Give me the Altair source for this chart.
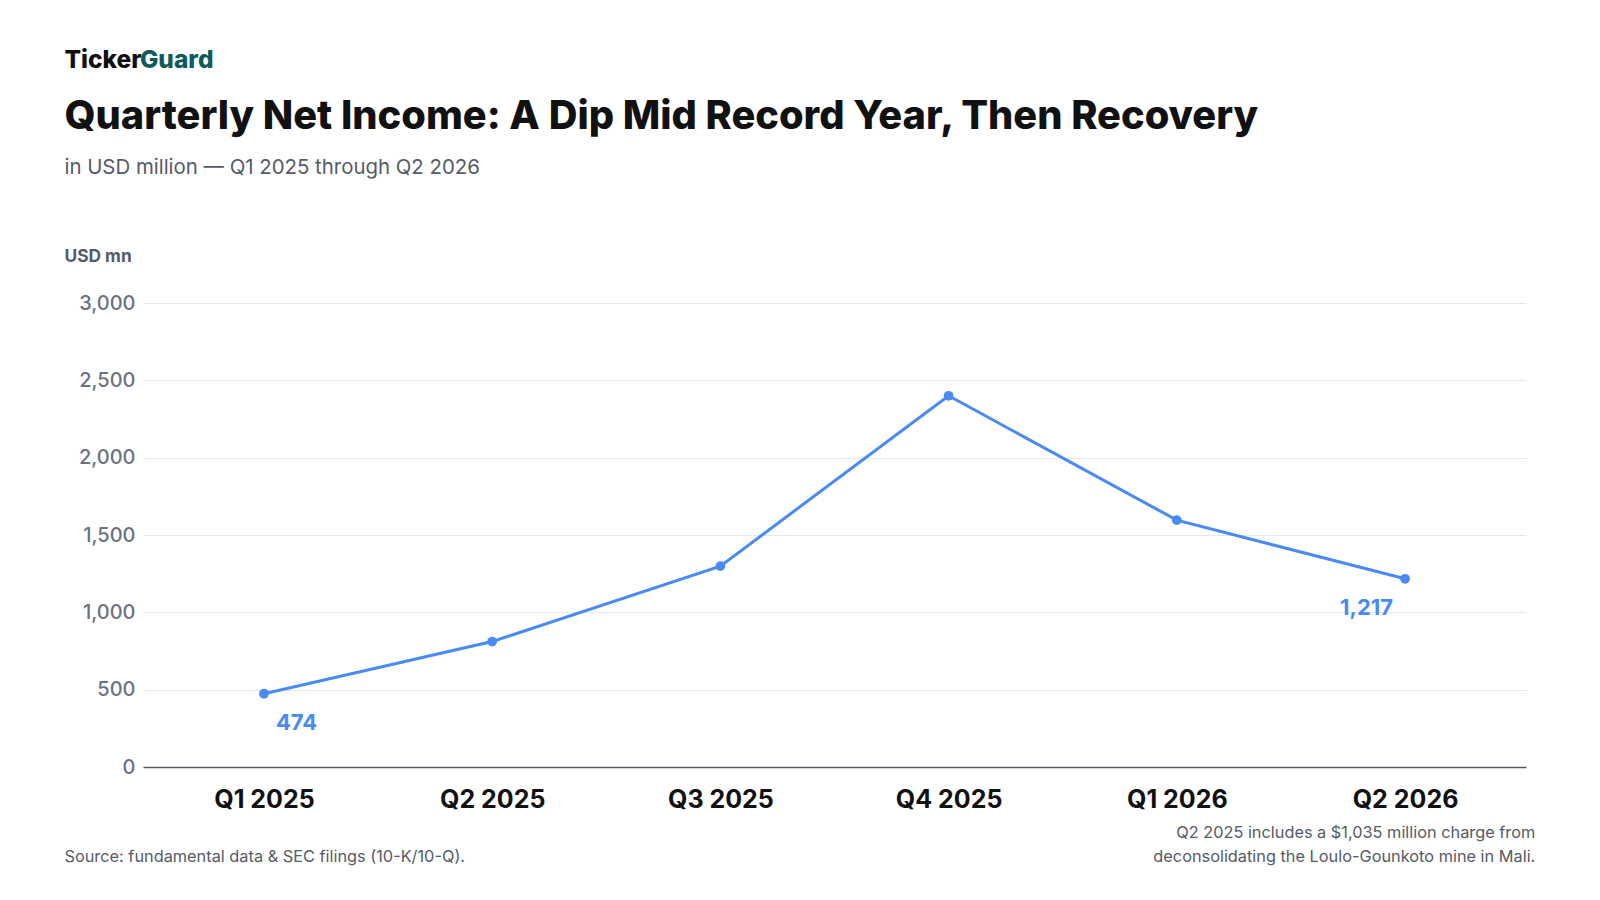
import altair as alt
import pandas as pd

quarters = ["Q1 2025", "Q2 2025", "Q3 2025", "Q4 2025", "Q1 2026", "Q2 2026"]
net_income = [474, 811, 1299, 2400, 1596, 1217]
labelled = ["Q1 2025", "Q2 2026"]

BLUE = "#4a8af4"
FONT = "Inter"
K = 1.02  # screenshot renders slightly smaller

df = pd.DataFrame({"quarter": quarters, "value": net_income})
df["label"] = df["value"].map(lambda v: f"{v:,}")

x = alt.X("quarter:N", sort=quarters, title=None,
          scale=alt.Scale(type="point", padding=0.53),
          axis=alt.Axis(labelFontSize=25, labelFontWeight="bold", labelColor="#111111",
                        labelAngle=0, labelPadding=20, ticks=False, domainColor="#555b66",
                        domainWidth=1.5, grid=False))
y = alt.Y("value:Q", title=None,
          scale=alt.Scale(domain=[0, 3000]),
          axis=alt.Axis(values=[0, 500, 1000, 1500, 2000, 2500, 3000], format=",.0f",
                        labelFontSize=20, labelFontWeight=500, labelColor="#6b7280",
                        labelPadding=8, ticks=False, domain=False, gridColor="#e5e7eb"))

base = alt.Chart(df)
line = base.mark_line(color=BLUE, strokeWidth=3).encode(x=x, y=y)
points = base.mark_point(color=BLUE, filled=True, opacity=1, size=95).encode(x=x, y=y)
first = base.transform_filter(alt.datum.quarter == labelled[0]).mark_text(
    color=BLUE, fontSize=22, fontWeight="bold", font=FONT, align="left", dx=12, dy=29
).encode(x=x, y=y, text="label:N")
last = base.transform_filter(alt.datum.quarter == labelled[1]).mark_text(
    color=BLUE, fontSize=22, fontWeight="bold", font=FONT, align="right", dx=-12, dy=29
).encode(x=x, y=y, text="label:N")


def txt(s, px, py, size, color, weight="normal", align="left"):
    return alt.Chart(pd.DataFrame({"t": [s]})).mark_text(
        text=s, fontSize=size * K, color=color, fontWeight=weight, font=FONT,
        align=align, baseline="middle"
    ).encode(x=alt.value(px * K), y=alt.value(py * K))


header = [
    txt("Ticker", -77, -237, 24, "#111111", 800),
    txt("Guard", -3, -237, 24, "#0f5a5a", 800),
    txt("Quarterly Net Income: A Dip Mid Record Year, Then Recovery", -77, -182, 39, "#111111", 800),
    txt("in USD million — Q1 2025 through Q2 2026", -77, -132, 20, "#555b66"),
    txt("USD mn", -77, -45, 17, "#555b66", "bold"),
    txt("Source: fundamental data & SEC filings (10-K/10-Q).", -77, 543, 16, "#555b66"),
    txt("Q2 2025 includes a $1,035 million charge from", 1365, 520, 16, "#555b66", align="right"),
    txt("deconsolidating the Loulo-Gounkoto mine in Mali.", 1365, 543, 16, "#555b66", align="right"),
]

chart = alt.layer(line, points, first, last, *header).properties(
    width=1383, height=464,
    padding={"left": 135, "top": 295, "right": 30, "bottom": 110},
    autosize=alt.AutoSizeParams(type="none"),
    background="white",
).configure_view(stroke=None).configure_axis(labelFont=FONT)

chart.save("out.html", embed_options={"renderer": "svg", "actions": False})
